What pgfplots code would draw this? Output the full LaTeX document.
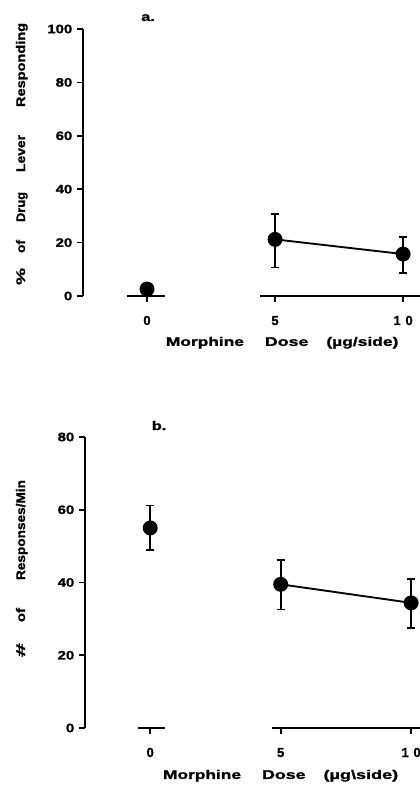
\documentclass[border=0pt]{standalone}
\usepackage{fontspec}
\setmainfont{Liberation Sans}[BoldFeatures={FakeBold=1.2}]
\usepackage{graphicx}
\usepackage{pgfplots}
\pgfplotsset{compat=1.18}
\newcommand{\W}[2]{\resizebox{#1}{\height}{#2}}
\begin{document}
\begin{tikzpicture}
\useasboundingbox (0,0) rectangle (315pt,591pt);
\pgfplotsset{
  panel/.style={
    scale only axis, anchor=south west, clip=false,
    axis lines*=left,
    axis line style={-, line width=1.5pt, black},
    x axis line style={draw=none},
    xmin=-2.5, ymin=0,
    xtick={0,5,10}, xticklabels={0,5,{1\hspace{3.5pt}0}},
    xtick align=outside, ytick align=outside,
    major tick length=4.5pt,
    tick style={line width=1.3pt, black},
    /pgf/number format/assume math mode=true,
    tick label style={font=\fontsize{9.2}{10}\selectfont\bfseries},
    yticklabel={\scalebox{1.22}[1]{\pgfmathprintnumber{\tick}}},
    xticklabel style={anchor=base, yshift=-17.25pt, font=\fontsize{9.8}{10}\selectfont\bfseries},
    xlabel style={anchor=base, font=\fontsize{9.4}{10}\selectfont\bfseries},
    ylabel style={anchor=base, font=\fontsize{9.4}{10}\selectfont\bfseries},
  },
  pt/.style={black, mark=*, mark size=4.9pt, line width=1.4pt,
    error bars/.cd, y dir=both, y explicit,
    error bar style={line width=1.3pt, black},
    error mark options={rotate=90, black, mark size=3pt, line width=1.3pt},
    /pgfplots/.cd},
}
% ---------------- panel a ----------------
\begin{axis}[panel,
  at={(62.25pt,369pt)}, width=252.75pt, height=200.25pt,
  xmax=10.66, ymax=100, ytick={0,20,...,100},
  xlabel={\W{58.5pt}{Morphine}\hspace{15.75pt}\W{32.6pt}{Dose}\hspace{13.5pt}\W{54pt}{(µg/side)}},
  xlabel style={at={(axis description cs:0.591,-0.187)}},
  ylabel={\W{12.75pt}{\%}\hspace{11.25pt}\W{9.75pt}{of}\hspace{13.5pt}\W{22.5pt}{Drug}\hspace{15pt}\W{27.75pt}{Lever}\hspace{21pt}\W{63pt}{Responding}},
  ylabel style={at={(axis description cs:-0.172,0.532)}},
]
\addplot[black, line width=1.5pt] coordinates {(-0.79,0) (0.70,0)};
\addplot[black, line width=1.5pt] coordinates {(4.41,0) (10.66,0)};
\addplot[only marks, pt] coordinates {(0,2.6) +- (0,0.5)};
\addplot[pt] coordinates {(5,21.2) += (0,9.5) -= (0,10.5) (10,15.7) += (0,6.5) -= (0,7.2)};
\node[anchor=base, font=\fontsize{9.4}{10}\selectfont\bfseries] at (axis description cs:0.193,1.030) {\scalebox{1.3}[1]{a.}};
\end{axis}
% ---------------- panel b ----------------
\begin{axis}[panel,
  at={(63.75pt,45pt)}, width=251.25pt, height=218.25pt,
  xmax=10.34, ymax=80, ytick={0,20,...,80},
  xlabel={\W{58.5pt}{Morphine}\hspace{15.75pt}\W{32.6pt}{Dose}\hspace{13.5pt}\W{56pt}{(µg\textbackslash side)}},
  xlabel style={at={(axis description cs:0.584,-0.175)}},
  ylabel={\W{10.5pt}{\#}\hspace{15.75pt}\W{10.5pt}{of}\hspace{21pt}\W{75pt}{Responses/Min}},
  ylabel style={at={(axis description cs:-0.179,0.548)}},
]
\addplot[black, line width=1.5pt] coordinates {(-0.45,0) (0.57,0)};
\addplot[black, line width=1.5pt] coordinates {(4.67,0) (10.34,0)};
\addplot[only marks, pt] coordinates {(0,55.0) += (0,6.2) -= (0,6.1)};
\addplot[pt] coordinates {(5,39.5) += (0,6.6) -= (0,6.9) (10,34.4) += (0,6.6) -= (0,6.9)};
\node[anchor=base, font=\fontsize{9.4}{10}\selectfont\bfseries] at (axis description cs:0.221,1.024) {\scalebox{1.3}[1]{b.}};
\end{axis}
\end{tikzpicture}
\end{document}
